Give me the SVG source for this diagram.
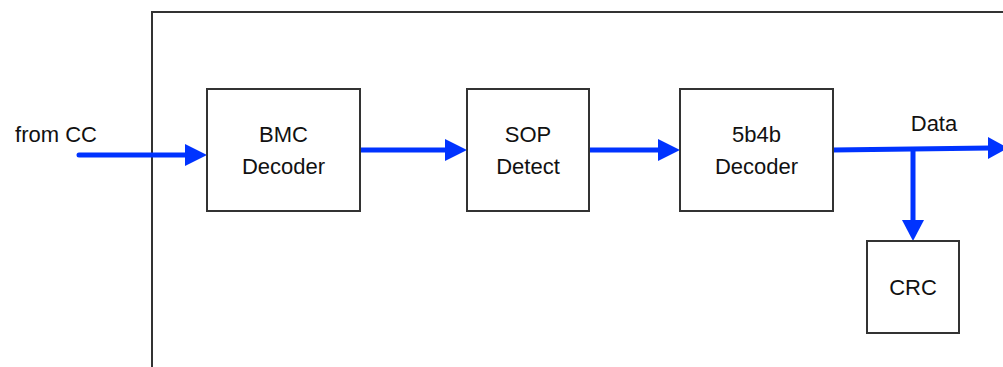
<svg xmlns="http://www.w3.org/2000/svg" width="1003" height="367" viewBox="0 0 1003 367">
<defs>
<style>
.box{fill:#fff;stroke:#333;stroke-width:2}
.frame{fill:none;stroke:#333;stroke-width:2}
.t{font-family:"Liberation Sans",Arial,sans-serif;font-size:22px;fill:#111;text-anchor:middle}
.c{fill:none;stroke:#0033ff;stroke-width:5;stroke-linecap:round}
.h{fill:#0033ff}
</style>
</defs>
<rect width="1003" height="367" fill="#fff"/>
<g id="frame"><path class="frame" d="M152 367 V12 H1004"/></g>
<g id="connectors">
<line class="c" x1="79" y1="155" x2="187" y2="155"/>
<polygon class="h" points="185,144 207,155 185,166"/>
<line class="c" x1="360" y1="150" x2="447" y2="150"/>
<polygon class="h" points="445,139 467,150 445,161"/>
<line class="c" x1="589" y1="150" x2="660" y2="150"/>
<polygon class="h" points="658,139 680,150 658,161"/>
<line class="c" x1="833" y1="150" x2="990" y2="148"/>
<polygon class="h" points="988,137 1008,148 988,159"/>
<line class="c" x1="913" y1="150" x2="913" y2="222"/>
<polygon class="h" points="902,220 913,241 924,220"/>
</g>
<g id="from-cc"><text class="t" x="56" y="142">from CC</text></g>
<g id="bmc"><rect class="box" x="207" y="89" width="153" height="122"/><text class="t" x="283.5" y="142">BMC</text><text class="t" x="283.5" y="174">Decoder</text></g>
<g id="sop"><rect class="box" x="467" y="89" width="122" height="122"/><text class="t" x="528" y="142">SOP</text><text class="t" x="528" y="174">Detect</text></g>
<g id="dec5b4b"><rect class="box" x="680" y="89" width="153" height="122"/><text class="t" x="756.5" y="142">5b4b</text><text class="t" x="756.5" y="174">Decoder</text></g>
<g id="data"><text class="t" x="934" y="131">Data</text></g>
<g id="crc"><rect class="box" x="867" y="241" width="92" height="92"/><text class="t" x="913" y="295">CRC</text></g>
</svg>
